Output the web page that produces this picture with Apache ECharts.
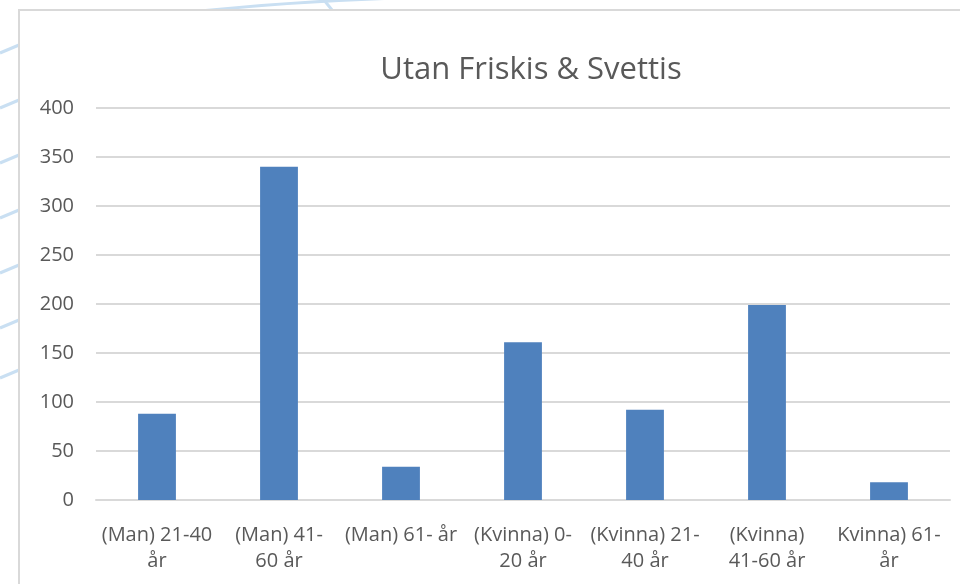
<!DOCTYPE html>
<html>
<head>
<meta charset="utf-8">
<script src="https://cdn.jsdelivr.net/npm/echarts@6/dist/echarts.min.js"></script>
<style>
html,body{margin:0;padding:0;background:#fff;}
#c{width:960px;height:584px;}
</style>
</head>
<body>
<div id="c"></div>
<script>
var chartTitle = 'Utan Friskis & Svettis';
var categories = ['(Man) 21-40\når', '(Man) 41-\n60 år', '(Man) 61- år', '(Kvinna) 0-\n20 år', '(Kvinna) 21-\n40 år', '(Kvinna)\n41-60 år', 'Kvinna) 61-\når'];
var values = [88, 340, 34, 161, 92, 199, 18];
var yTicks = [0, 50, 100, 150, 200, 250, 300, 350, 400];

var chart = echarts.init(document.getElementById('c'), null, {renderer: 'canvas'});
var FONT = 'Open Sans';
var decoY = [45, 100, 155, 210, 265, 320, 370];
var graphics = [];
decoY.forEach(function (y) {
  graphics.push({type: 'line', z: -1, shape: {x1: 0, y1: y + 8, x2: 19, y2: y}, style: {stroke: '#c9dff2', lineWidth: 3}});
});
graphics.push({type: 'bezierCurve', z: -1, shape: {x1: 200, y1: 11, x2: 400, y2: -2, cpx1: 270, cpy1: 4, cpx2: 330, cpy2: 0}, style: {stroke: '#c9dff2', lineWidth: 3, fill: null}});
graphics.push({type: 'line', z: -1, shape: {x1: 324, y1: 0, x2: 332, y2: 10}, style: {stroke: '#c9dff2', lineWidth: 3}});
graphics.push({type: 'rect', z: 0, shape: {x: 19, y: 10, width: 960, height: 600}, style: {fill: '#ffffff', stroke: '#d9d9d9', lineWidth: 2}});

chart.setOption({
  backgroundColor: '#ffffff',
  animation: false,
  graphic: graphics,
  title: {
    text: chartTitle,
    left: 526, textAlign: 'center',
    top: 50,
    textStyle: {fontFamily: FONT, fontSize: 31, fontWeight: 'normal', color: '#595959'}
  },
  grid: {left: 96, right: 10, top: 108, bottom: 84, containLabel: false},
  xAxis: {
    type: 'category',
    data: categories,
    axisLine: {lineStyle: {color: '#d9d9d9', width: 2}},
    axisTick: {show: false},
    axisLabel: {fontFamily: FONT, fontSize: 20, color: '#595959', margin: 22, lineHeight: 26, interval: 0}
  },
  yAxis: {
    type: 'value',
    min: yTicks[0], max: yTicks[yTicks.length - 1], interval: 50,
    axisLine: {show: false},
    axisTick: {show: false},
    splitLine: {lineStyle: {color: '#d9d9d9', width: 2}},
    axisLabel: {fontFamily: FONT, fontSize: 20, color: '#595959', margin: 22}
  },
  series: [{
    type: 'bar',
    data: values,
    barWidth: '31%',
    itemStyle: {color: '#4f81bd'}
  }]
});
</script>
</body>
</html>
